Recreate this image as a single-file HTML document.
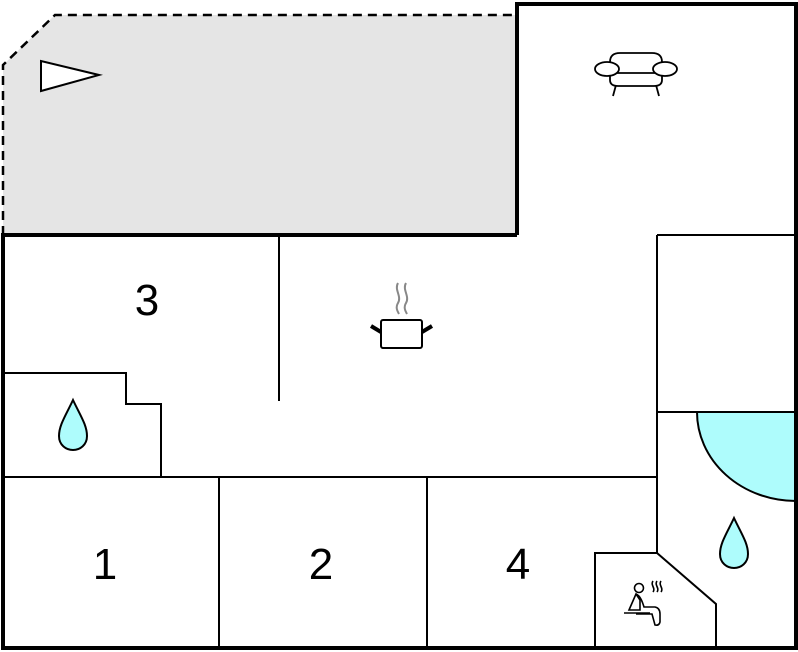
<!DOCTYPE html>
<html><head><meta charset="utf-8"><style>html,body{margin:0;padding:0;background:#fff}svg{display:block}</style></head>
<body>
<svg width="798" height="652" viewBox="0 0 798 652" xmlns="http://www.w3.org/2000/svg">
<rect width="798" height="652" fill="#fff"/>
<!-- terrace -->
<polygon points="3,235 3,65 55,15 517,15 517,235" fill="#e5e5e5"/>
<polyline points="3,235 3,65 55,15 517,15" fill="none" stroke="#000" stroke-width="2.5" stroke-dasharray="9,6"/>
<polyline points="517,15 517,235" fill="none" stroke="#000" stroke-width="4"/>
<polygon points="41,61 41,91 99,75" fill="#fff" stroke="#000" stroke-width="2"/>
<!-- quarter circle -->
<path d="M697,412 A99,89 0 0 0 796,501 L796,412 Z" fill="#aefcfc" stroke="#000" stroke-width="2"/>
<!-- inner walls -->
<g fill="none" stroke="#000" stroke-width="2">
<line x1="279" y1="235" x2="279" y2="401"/>
<polyline points="4,373 126,373 126,404 161,404 161,477"/>
<line x1="4" y1="477" x2="657" y2="477"/>
<line x1="219" y1="477" x2="219" y2="648"/>
<line x1="427" y1="477" x2="427" y2="648"/>
<line x1="657" y1="235" x2="657" y2="553"/>
<line x1="657" y1="235" x2="796" y2="235"/>
<line x1="657" y1="412" x2="796" y2="412"/>
<polyline points="595,648 595,553 657,553 716,604 716,648"/>
</g>
<!-- outer walls -->
<g fill="none" stroke="#000" stroke-width="4">
<polyline points="3,235 517,235"/>
<polyline points="517,15 517,4 796,4 796,648 3,648 3,233"/>
</g>
<!-- drops -->
<path d="M73,400 C66,415 59,425 59,436 C59,445 66,450 73,450 C80,450 87,445 87,436 C87,425 80,415 73,400 Z" fill="#aefcfc" stroke="#000" stroke-width="2"/>
<path d="M734,518 C727,533 720,543 720,554 C720,563 727,568 734,568 C741,568 748,563 748,554 C748,543 741,533 734,518 Z" fill="#aefcfc" stroke="#000" stroke-width="2"/>
<!-- sofa -->
<g fill="#fff" stroke="#000" stroke-width="1.8">
<line x1="616" y1="85" x2="613" y2="96"/><line x1="656" y1="85" x2="659" y2="96"/>
<path d="M610,62 Q610,53 620,53 L652,53 Q662,53 662,62 L662,80 Q662,86 654,86 L618,86 Q610,86 610,80 Z"/>
<line x1="610" y1="73" x2="662" y2="73"/>
<ellipse cx="607" cy="69" rx="12" ry="7"/>
<ellipse cx="665" cy="69" rx="12" ry="7"/>
</g>
<!-- pot -->
<g fill="none" stroke="#888" stroke-width="2">
<path d="M398,283 C394,290 402,296 398,303 C395,308 398,312 399,314"/>
<path d="M406,283 C402,290 410,296 406,303 C403,308 406,312 407,314"/>
</g>
<g stroke="#000" fill="none">
<rect x="381" y="320" width="41" height="28" rx="2" stroke-width="2"/>
<line x1="371" y1="326" x2="381" y2="332" stroke-width="4"/>
<line x1="432" y1="326" x2="422" y2="332" stroke-width="4"/>
</g>
<!-- sauna person -->
<g fill="none" stroke="#000" stroke-width="1.6">
<circle cx="639" cy="588" r="4.5"/>
<path d="M636,594 L629,610 L640,610 L640,600 Z"/>
<path d="M636,594 C641,596 643,604 644,607 L655,607 Q660,608 660,614 L660,622 Q659,626 655,625 L652,614 L636,614"/>
<line x1="624" y1="613" x2="650" y2="613"/>
<path d="M653,581 C650,585 656,588 653,592 M657,581 C654,585 660,588 657,592 M661,581 C658,585 664,588 661,592"/>
</g>
<!-- labels -->
<g font-family="'Liberation Sans', sans-serif" font-size="44" fill="#000" text-anchor="middle">
<text x="147" y="315">3</text>
<text x="105" y="579">1</text>
<text x="321" y="579">2</text>
<text x="518" y="579">4</text>
</g>
</svg>
</body></html>
